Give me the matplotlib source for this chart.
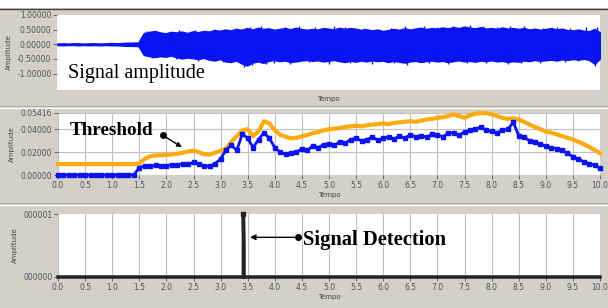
import numpy as np
import matplotlib
matplotlib.use("Agg")
import matplotlib.pyplot as plt
from matplotlib.lines import Line2D
from matplotlib.patches import Rectangle

# time base (s), 0.1 s steps
t = np.round(np.arange(0, 101) * 0.1, 1)

# signal envelope (upper / lower edge)
sig_hi = [0.02, 0.03, 0.02, 0.03, 0.03, 0.02, 0.03, 0.03, 0.02, 0.03,
          0.04, 0.03, 0.04, 0.05, 0.05, 0.06, 0.38, 0.42, 0.45, 0.40,
          0.37, 0.42, 0.40, 0.43, 0.38, 0.44, 0.41, 0.45, 0.43, 0.48,
          0.46, 0.50, 0.47, 0.52, 0.49, 0.55, 0.50, 0.56, 0.52, 0.54,
          0.49, 0.52, 0.55, 0.51, 0.56, 0.52, 0.49, 0.52, 0.50, 0.55,
          0.53, 0.50, 0.56, 0.52, 0.55, 0.53, 0.49, 0.51, 0.47, 0.50,
          0.45, 0.48, 0.52, 0.49, 0.54, 0.50, 0.53, 0.56, 0.52, 0.55,
          0.53, 0.57, 0.54, 0.58, 0.55, 0.60, 0.56, 0.54, 0.58, 0.53,
          0.55, 0.52, 0.57, 0.53, 0.55, 0.52, 0.55, 0.50, 0.53, 0.49,
          0.52, 0.55, 0.50, 0.53, 0.48, 0.47, 0.50, 0.46, 0.44, 0.52,
          0.40]
sig_lo = [-0.02, -0.03, -0.02, -0.02, -0.03, -0.02, -0.03, -0.02, -0.03, -0.02,
          -0.03, -0.03, -0.04, -0.05, -0.05, -0.06, -0.36, -0.40, -0.43, -0.40,
          -0.42, -0.38, -0.44, -0.48, -0.45, -0.47, -0.50, -0.46, -0.52, -0.55,
          -0.50, -0.58, -0.60, -0.55, -0.65, -0.72, -0.62, -0.58, -0.63, -0.56,
          -0.53, -0.57, -0.55, -0.60, -0.58, -0.55, -0.53, -0.56, -0.54, -0.58,
          -0.56, -0.53, -0.57, -0.60, -0.56, -0.59, -0.55, -0.58, -0.54, -0.57,
          -0.55, -0.60, -0.56, -0.59, -0.62, -0.58, -0.56, -0.60, -0.57, -0.55,
          -0.58, -0.56, -0.60, -0.57, -0.54, -0.58, -0.56, -0.59, -0.55, -0.57,
          -0.54, -0.58, -0.56, -0.60, -0.57, -0.59, -0.55, -0.57, -0.53, -0.56,
          -0.54, -0.52, -0.55, -0.51, -0.53, -0.50, -0.52, -0.49, -0.53, -0.66,
          -0.48]

# individual spikes sticking out of the envelope
spike_up_t = [1.65, 2.25, 2.55, 2.9, 3.3, 3.55, 3.75, 4.2, 4.45, 4.75, 5.1, 5.3, 5.65,
              6.15, 6.4, 6.75, 7.0, 7.3, 7.6, 7.85, 8.1, 8.35, 8.6, 8.95, 9.2, 9.45,
              9.75, 9.95]
spike_up_v = [0.45, 0.50, 0.48, 0.53, 0.57, 0.60, 0.61, 0.60, 0.63, 0.58, 0.61, 0.59, 0.57,
              0.55, 0.62, 0.61, 0.60, 0.64, 0.65, 0.62, 0.60, 0.61, 0.61, 0.57, 0.60, 0.55,
              0.60, 0.58]
spike_dn_t = [1.75, 2.2, 2.6, 3.05, 3.45, 3.6, 3.85, 4.0, 4.3, 4.65, 5.0, 5.4, 5.8, 6.2,
              6.45, 6.85, 7.2, 7.55, 7.9, 8.3, 8.55, 8.9, 9.35, 9.6, 9.9]
spike_dn_v = [-0.46, -0.50, -0.56, -0.62, -0.79, -0.70, -0.68, -0.65, -0.68, -0.62, -0.66,
              -0.64, -0.66, -0.65, -0.71, -0.64, -0.67, -0.64, -0.63, -0.68, -0.65, -0.64,
              -0.60, -0.58, -0.74]

# threshold (orange) and signal energy (blue), middle panel
threshold = [0.0095] * 15 + [
    0.0100, 0.0140, 0.0165, 0.0170, 0.0172, 0.0176, 0.0180, 0.0185, 0.0195, 0.0205,
    0.0212, 0.0200, 0.0180, 0.0178, 0.0195, 0.0210, 0.0230, 0.0290, 0.0340, 0.0390,
    0.0400, 0.0340, 0.0380, 0.0470, 0.0450, 0.0390, 0.0350, 0.0335, 0.0320, 0.0325,
    0.0338, 0.0350, 0.0365, 0.0375, 0.0390, 0.0400, 0.0405, 0.0410, 0.0420, 0.0425,
    0.0430, 0.0425, 0.0435, 0.0440, 0.0445, 0.0450, 0.0445, 0.0455, 0.0460, 0.0465,
    0.0470, 0.0465, 0.0475, 0.0485, 0.0490, 0.0500, 0.0505, 0.0515, 0.0530, 0.0515,
    0.0500, 0.0520, 0.0535, 0.0542, 0.0540, 0.0530, 0.0515, 0.0500, 0.0490, 0.0495,
    0.0485, 0.0465, 0.0440, 0.0420, 0.0400, 0.0380, 0.0370, 0.0355, 0.0340, 0.0325,
    0.0310, 0.0290, 0.0270, 0.0245, 0.0220, 0.0190]
energy = [0.0] * 15 + [
    0.0065, 0.0080, 0.0075, 0.0085, 0.0078, 0.0082, 0.0090, 0.0085, 0.0100, 0.0095,
    0.0110, 0.0095, 0.0080, 0.0075, 0.0100, 0.0140, 0.0220, 0.0260, 0.0215, 0.0360,
    0.0320, 0.0240, 0.0310, 0.0370, 0.0320, 0.0240, 0.0200, 0.0180, 0.0195, 0.0200,
    0.0230, 0.0215, 0.0255, 0.0240, 0.0265, 0.0275, 0.0260, 0.0290, 0.0280, 0.0310,
    0.0320, 0.0300, 0.0310, 0.0330, 0.0305, 0.0320, 0.0335, 0.0315, 0.0340, 0.0325,
    0.0350, 0.0335, 0.0345, 0.0330, 0.0355, 0.0350, 0.0335, 0.0365, 0.0370, 0.0350,
    0.0375, 0.0390, 0.0405, 0.0415, 0.0395, 0.0380, 0.0370, 0.0390, 0.0400, 0.0460,
    0.0345, 0.0330, 0.0300, 0.0285, 0.0270, 0.0250, 0.0240, 0.0230, 0.0215, 0.0190,
    0.0160, 0.0140, 0.0115, 0.0100, 0.0085, 0.0060]

# detection output (bottom panel)
det_t = [0.0, 3.42, 3.42, 3.43, 3.43, 10.0]
det_v = [0, 0, 1, 0.48, 0, 0]

xticks = np.round(np.arange(0, 10.01, 0.5), 1)
xticklabels = ["%.1f" % v for v in xticks]

BG = "#d4d0c8"
BLUE = "#0a14f0"
ORANGE = "#ffaa10"
TICK_COLOR = "#4a5560"
W, H = 608, 308

fig = plt.figure(figsize=(W / 100, H / 100), dpi=100, facecolor=BG)


def px_axes(left, top, right, bottom):
    return fig.add_axes([left / W, 1 - bottom / H, (right - left) / W, (bottom - top) / H])


def style(ax):
    ax.set_facecolor("white")
    for s in ax.spines.values():
        s.set_visible(False)
    ax.tick_params(axis="both", labelsize=5.5, colors="#555555", labelcolor=TICK_COLOR,
                   length=3, width=0.6, pad=1)
    ax.set_ylabel("Amplitude", fontsize=5, color="#444444", labelpad=4)


# window chrome
fig.patches.append(Rectangle((0, 1 - 8 / H), 1, 8 / H, transform=fig.transFigure,
                             facecolor="white", edgecolor="none"))
for y, c, lw in [(8.5, "#404040", 1.0), (106, "#b0aca4", 0.8), (107.5, "white", 1.0),
                 (203, "#b0aca4", 0.8), (204.5, "white", 1.0)]:
    fig.add_artist(Line2D([0, 1], [1 - y / H, 1 - y / H], transform=fig.transFigure,
                          color=c, lw=lw))

# top panel: signal amplitude
ax1 = px_axes(57, 15, 600, 90)
style(ax1)
ax1.fill_between(t, sig_lo, sig_hi, color=BLUE, lw=1.2, edgecolor=BLUE)
ax1.vlines(spike_up_t, 0, spike_up_v, color=BLUE, lw=1.0)
ax1.vlines(spike_dn_t, spike_dn_v, 0, color=BLUE, lw=1.0)
ax1.set_xlim(0, 10)
ax1.set_ylim(-1.56, 1.0)
ax1.set_yticks([1, 0.5, 0, -0.5, -1])
ax1.set_yticklabels(["1.00000", "0.50000", "0.00000", "-0.50000", "-1.00000"])
ax1.set_xticks([])
ax1.set_xlabel("Tempo", fontsize=5, color="#444444", labelpad=4)
ax1.text(0.2, -1.0, "Signal amplitude", fontsize=14.5, family="Liberation Serif",
         va="center", ha="left")

# middle panel: threshold vs energy
ax2 = px_axes(58, 113, 600, 175)
style(ax2)
ax2.grid(True, color="#c0c0c0", lw=0.8)
ax2.set_axisbelow(True)
ax2.plot(t, threshold, color=ORANGE, lw=3, clip_on=False, zorder=3)
ax2.plot(t, energy, color=BLUE, lw=2, marker="s", ms=3, mec=BLUE, clip_on=False, zorder=4)
ax2.set_xlim(0, 10)
ax2.set_ylim(0, 0.05416)
ax2.set_yticks([0, 0.02, 0.04, 0.05416])
ax2.set_yticklabels(["0.00000", "0.02000", "0.04000", "0.05416"])
ax2.set_xticks(xticks)
ax2.set_xticklabels(xticklabels)
ax2.set_xlabel("Tempo", fontsize=5, color="#444444", labelpad=2)
ax2.plot([1.93], [0.0348], "o", color="black", ms=4, zorder=5)
ax2.annotate("", xy=(2.33, 0.0230), xytext=(1.93, 0.0348),
             arrowprops=dict(arrowstyle="-|>", color="black", lw=1.0, mutation_scale=7),
             zorder=5)
ax2.text(0.22, 0.039, "Threshold", fontsize=13.8, weight="bold", family="Liberation Serif",
         va="center", ha="left", zorder=6)

# bottom panel: detection
ax3 = px_axes(58, 214, 600, 277)
style(ax3)
ax3.grid(True, axis="x", color="#c0c0c0", lw=0.8)
ax3.set_axisbelow(True)
ax3.plot(det_t, det_v, color="#222222", lw=2.5, clip_on=False, zorder=3)
ax3.plot([det_t[2]], [det_v[2]], "s", color="#222222", ms=3, clip_on=False, zorder=4)
ax3.set_xlim(0, 10)
ax3.set_ylim(0, 1)
ax3.set_yticks([1, 0])
ax3.set_yticklabels(["000001", "000000"])
ax3.set_xticks(xticks)
ax3.set_xticklabels(xticklabels)
ax3.set_xlabel("Tempo", fontsize=5, color="#444444", labelpad=2)
ax3.plot([4.43], [0.63], "o", color="black", ms=4, zorder=5)
ax3.annotate("", xy=(3.49, 0.63), xytext=(4.43, 0.63),
             arrowprops=dict(arrowstyle="-|>", color="black", lw=1.0, mutation_scale=8),
             zorder=5)
ax3.text(4.52, 0.58, "Signal Detection", fontsize=14.8, weight="bold",
         family="Liberation Serif", va="center", ha="left", zorder=6)

fig.savefig("out.png", dpi=100, facecolor=BG)
